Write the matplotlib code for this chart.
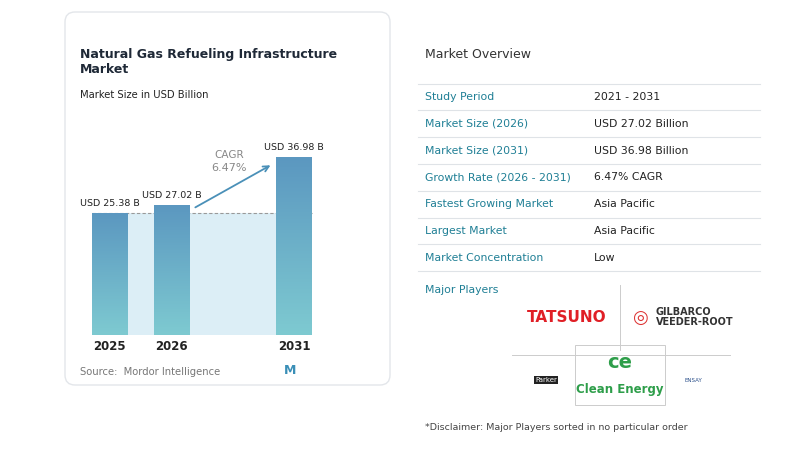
import matplotlib
matplotlib.use("Agg")
import matplotlib.pyplot as plt
import numpy as np
from matplotlib.patches import FancyBboxPatch, Rectangle
from matplotlib.colors import LinearSegmentedColormap

years = ["2025", "2026", "2031"]
values = [25.38, 27.02, 36.98]
value_labels = ["USD 25.38 B", "USD 27.02 B", "USD 36.98 B"]
cagr = "6.47%"
ov_labels = ["Study Period", "Market Size (2026)", "Market Size (2031)", "Growth Rate (2026 - 2031)",
             "Fastest Growing Market", "Largest Market", "Market Concentration"]
ov_values = ["2021 - 2031", "USD 27.02 Billion", "USD 36.98 Billion", "6.47% CAGR",
             "Asia Pacific", "Asia Pacific", "Low"]

W, H = 800, 459
fig = plt.figure(figsize=(8, 4.59), dpi=100)
fig.patch.set_facecolor("white")
bg = fig.add_axes([0, 0, 1, 1])
bg.set_xlim(0, W); bg.set_ylim(H, 0); bg.axis("off")
bg.add_patch(FancyBboxPatch((65, 12), 325, 373, boxstyle="round,pad=0,rounding_size=10",
                            fc="white", ec="#e3e6ea", lw=1.0))
bg.text(80, 62, "Natural Gas Refueling Infrastructure\nMarket", fontsize=9, fontweight="bold",
        color="#1f2937", va="center", linespacing=1.15)
bg.text(80, 95, "Market Size in USD Billion", fontsize=7.2, color="#222", va="center")
bg.text(80, 372, "Source:  Mordor Intelligence", fontsize=7.2, color="#777", va="center")
bg.text(290, 371, "M", fontsize=9, color="#3a8fb7", fontweight="bold", ha="center", va="center")

# right panel
bg.text(425, 55, "Market Overview", fontsize=9, color="#333", va="center")
teal = "#1f7f95"
for i, (l, v) in enumerate(zip(ov_labels, ov_values)):
    y = 97 + i * 26.8
    bg.text(425, y, l, fontsize=7.8, color=teal, va="center")
    bg.text(594, y, v, fontsize=7.8, color="#222", va="center")
    bg.plot([418, 760], [y + 13.4, y + 13.4], color="#dfe3e7", lw=0.8)
bg.plot([418, 760], [83.6, 83.6], color="#dfe3e7", lw=0.8)
bg.text(425, 290, "Major Players", fontsize=7.8, color=teal, va="center")
bg.plot([620, 620], [285, 350], color="#ccc", lw=0.7)
bg.plot([512, 730], [355, 355], color="#ccc", lw=0.7)
bg.add_patch(Rectangle((575, 345), 90, 60, fc="white", ec="#ccc", lw=0.7))
bg.text(567, 317, "TATSUNO", fontsize=11, color="#e01f26", fontweight="bold", ha="center", va="center")
bg.text(640, 318, "◎", fontsize=13, color="#d33", ha="center", va="center")
bg.text(656, 312, "GILBARCO", fontsize=7, color="#333", fontweight="bold", va="center")
bg.text(656, 322, "VEEDER-ROOT", fontsize=7, color="#333", fontweight="bold", va="center")
bg.text(620, 362, "ce", fontsize=14, color="#2e9e4a", fontweight="bold", ha="center", va="center")
bg.text(620, 389, "Clean Energy", fontsize=8.5, color="#2e9e4a", fontweight="bold", ha="center", va="center")
bg.text(546, 380, "Parker", fontsize=5, color="white", ha="center", va="center",
        bbox=dict(fc="#222", ec="none", pad=1))
bg.text(693, 380, "ENSAY", fontsize=4, color="#2a4f8a", ha="center", va="center")
bg.text(425, 428, "*Disclaimer: Major Players sorted in no particular order", fontsize=6.8, color="#444", va="center")

ax = fig.add_axes([80 / W, 1 - 335 / H, 250 / W, 200 / H])
ax.axis("off")
xs = [0, 1, 2.97]
bw = 0.58
ax.add_patch(Rectangle((xs[0] + bw / 2, 0), xs[2] - xs[0] - bw, values[0], fc="#dceef6", ec="none", zorder=1))
ax.plot([xs[0] - bw / 2, xs[2] + bw / 2], [values[0], values[0]], ls=(0, (3, 2)), color="#999", lw=0.8, zorder=2)
grad = np.linspace(0, 1, 256).reshape(-1, 1)
cmap = LinearSegmentedColormap.from_list("g", ["#7ecad1", "#5b97c0"])
bars = ax.bar(xs, values, width=bw, color="none", zorder=3)
for b, x, v, lab in zip(bars, xs, values, value_labels):
    im = ax.imshow(grad, extent=[x - bw / 2, x + bw / 2, 0, v], origin="lower", cmap=cmap,
                   aspect="auto", zorder=3)
    im.set_clip_path(b)
    ax.text(x, v + 1.0, lab, ha="center", va="bottom", fontsize=6.8, color="#222")
ax.set_xlim(-0.48, 3.55); ax.set_ylim(0, 41.5)
ax.annotate("", xy=(xs[2] - bw / 2 - 0.05, 35.5), xytext=(xs[1] + bw / 2 + 0.05, 26.2),
            arrowprops=dict(arrowstyle="->", color="#4a90b8", lw=1.3), zorder=4)
ax.text(1.92, 37.3, "CAGR", ha="center", va="center", fontsize=7.5, color="#888")
ax.text(1.92, 34.6, cagr, ha="center", va="center", fontsize=8, color="#888")
for x, yl in zip(xs, years):
    bg.text(80 + (x + 0.48) / 4.03 * 250, 347, yl, ha="center", va="center", fontsize=8.5,
            fontweight="bold", color="#222")

fig.savefig("out.png", dpi=100, facecolor=fig.get_facecolor())
